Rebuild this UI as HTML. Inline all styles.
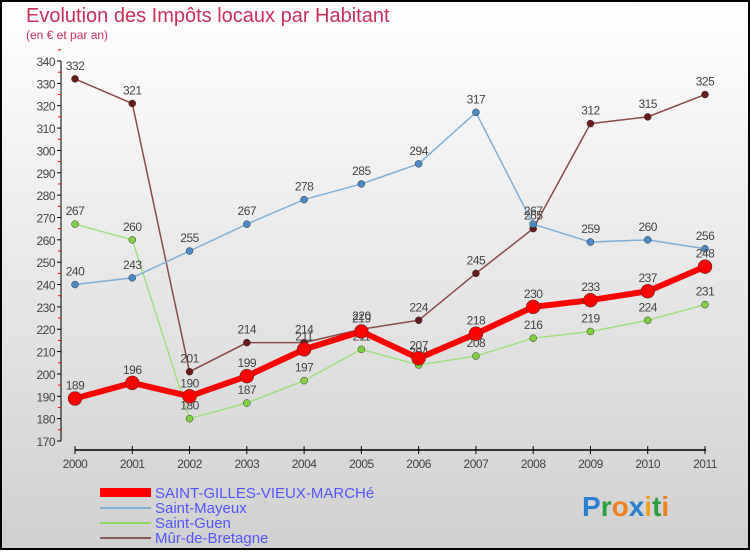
<!DOCTYPE html>
<html><head><meta charset="utf-8"><style>
body{margin:0;width:750px;height:550px;overflow:hidden;font-family:"Liberation Sans",sans-serif}
svg text{font-family:"Liberation Sans",sans-serif}
</style></head><body>
<svg id="c" width="750" height="550" xmlns="http://www.w3.org/2000/svg">
<defs><linearGradient id="bg" x1="0" y1="0" x2="0" y2="1"><stop offset="0" stop-color="#ffffff"/><stop offset="1" stop-color="#d0d0d0"/></linearGradient></defs>
<rect x="1" y="1" width="748" height="548" fill="url(#bg)" stroke="#000" stroke-width="2"/>
<text x="26" y="22" font-size="20" fill="#c8305a">Evolution des Impôts locaux par Habitant</text>
<text x="26" y="39" font-size="12" fill="#c8305a">(en € et par an)</text>
<g id="axes"></g><g id="series"></g>
<g>
<rect x="100" y="488" width="51" height="9" fill="#f00"/>
<text x="155" y="498" font-size="15" fill="#5555ff">SAINT-GILLES-VIEUX-MARCHé</text>
<rect x="100" y="507" width="51" height="2" fill="#7fb0d8"/>
<text x="155" y="513" font-size="15" fill="#5555ff">Saint-Mayeux</text>
<rect x="100" y="522" width="51" height="2" fill="#8ed860"/>
<text x="155" y="528" font-size="15" fill="#5555ff">Saint-Guen</text>
<rect x="100" y="537" width="51" height="2" fill="#8a5a5a"/>
<text x="155" y="543" font-size="15" fill="#5555ff">Mûr-de-Bretagne</text>
</g>
<text x="582" y="516" font-size="28" font-weight="bold"><tspan fill="#2a7fd0">P</tspan><tspan fill="#2aa040">r</tspan><tspan fill="#f08020">o</tspan><tspan fill="#2a7fd0">x</tspan><tspan fill="#f0a020">i</tspan><tspan fill="#2aa040">t</tspan><tspan fill="#f08020">i</tspan></text>
</svg>
<script>
const years=["2000","2001","2002","2003","2004","2005","2006","2007","2008","2009","2010","2011"];
const yTicks=[170,180,190,200,210,220,230,240,250,260,270,280,290,300,310,320,330,340];
const stGilles=[189,196,190,199,211,219,207,218,230,233,237,248];
const stMayeux=[240,243,255,267,278,285,294,317,267,259,260,256];
const stGuen=[267,260,180,187,197,211,204,208,216,219,224,231];
const mur=[332,321,201,214,214,220,224,245,265,312,315,325];
const NS="http://www.w3.org/2000/svg";
const X=i=>75+i*(630/11);
const Y=v=>441-(v-170)*(380/170);
function mk(t,a,p){const e=document.createElementNS(NS,t);for(const k in a)e.setAttribute(k,a[k]);p.appendChild(e);return e;}
const ax=document.getElementById('axes');
const yl=mk('line',{x1:61,y1:61,x2:61,y2:441,stroke:'#000','stroke-width':1},ax);


yTicks.forEach(v=>{
 mk('line',{x1:57,y1:Y(v),x2:61,y2:Y(v),stroke:'#000'},ax);
 mk('line',{x1:58,y1:Y(v+5),x2:61,y2:Y(v+5),stroke:'#e00'},ax);
 const t=mk('text',{x:55,y:Y(v)+5,'font-size':12,fill:'#444','text-anchor':'end','letter-spacing':'-0.5'},ax);t.textContent=v;
 
 
});
const xl=mk('line',{x1:75,y1:450,x2:706,y2:450,stroke:'#000','stroke-width':1.5},ax);


years.forEach((y,i)=>{
 mk('line',{x1:X(i),y1:446,x2:X(i),y2:454,stroke:'#000'},ax);
 const t=mk('text',{x:X(i),y:468,'font-size':12,fill:'#444','text-anchor':'middle','letter-spacing':'-0.5'},ax);t.textContent=y;
 
 
});
const sg=document.getElementById('series');
function series(data,color,w,r,dot,name){
 const g=mk('g',{},sg);
 
 
 mk('polyline',{points:data.map((v,i)=>X(i)+','+Y(v)).join(' '),fill:'none',stroke:color,'stroke-width':w},g);
 data.forEach((v,i)=>{
  const c=mk('circle',{cx:X(i),cy:Y(v),r:r,fill:dot,stroke:'#333','stroke-width':0.5},g);
  
  
  const t=mk('text',{x:X(i),y:Y(v)-9,'font-size':12,fill:'#444','text-anchor':'middle','letter-spacing':'-0.5'},g);t.textContent=v;
  
  
 });
}
series(mur,'#8a4a4a',1.5,3.5,'#6a1a1a','mur-de-bretagne-series');
series(stGuen,'#a0e080',1.5,3.5,'#80d040','saint-guen-series');
series(stMayeux,'#7fb0d8',1.5,3.5,'#4a8ac8','saint-mayeux-series');
series(stGilles,'#ff0000',6,7,'#ff0000','saint-gilles-series');
</script>
</body></html>
